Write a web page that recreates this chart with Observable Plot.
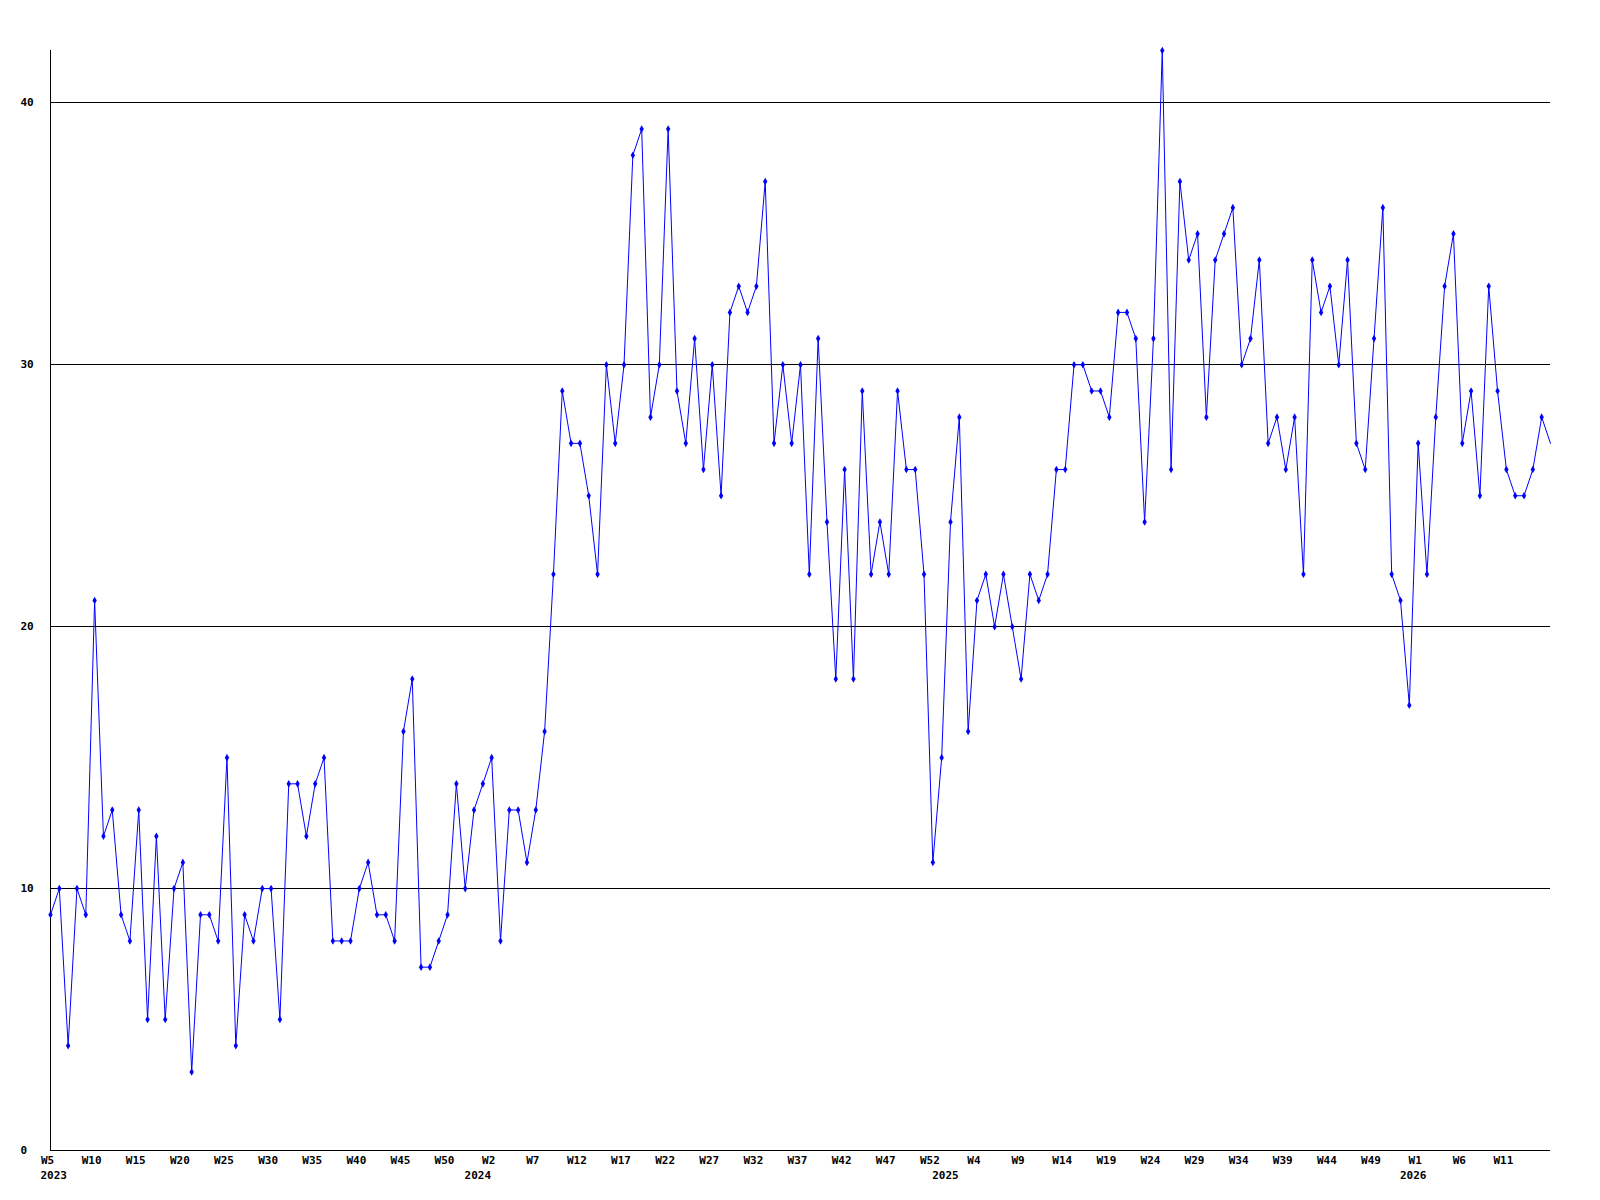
<!DOCTYPE html>
<html>
<head>
<meta charset="utf-8">
<script src="https://cdn.jsdelivr.net/npm/d3@7"></script>
<script src="https://cdn.jsdelivr.net/npm/@observablehq/plot@0.6"></script>
<style>
  html, body { margin: 0; padding: 0; background: #ffffff; }
  #chart svg { display: block; }
</style>
</head>
<body>
<div id="chart"></div>
<script>
// ---- data ----
const startYear = 2023;
const startWeek = 5;
const weeksPerYear = 53;
const values = [
  9, 10, 4, 10, 9, 21, 12, 13, 9, 8,
  13, 5, 12, 5, 10, 11, 3, 9, 9, 8,
  15, 4, 9, 8, 10, 10, 5, 14, 14, 12,
  14, 15, 8, 8, 8, 10, 11, 9, 9, 8,
  16, 18, 7, 7, 8, 9, 14, 10, 13, 14,
  15, 8, 13, 13, 11, 13, 16, 22, 29, 27,
  27, 25, 22, 30, 27, 30, 38, 39, 28, 30,
  39, 29, 27, 31, 26, 30, 25, 32, 33, 32,
  33, 37, 27, 30, 27, 30, 22, 31, 24, 18,
  26, 18, 29, 22, 24, 22, 29, 26, 26, 22,
  11, 15, 24, 28, 16, 21, 22, 20, 22, 20,
  18, 22, 21, 22, 26, 26, 30, 30, 29, 29,
  28, 32, 32, 31, 24, 31, 42, 26, 37, 34,
  35, 28, 34, 35, 36, 30, 31, 34, 27, 28,
  26, 28, 22, 34, 32, 33, 30, 34, 27, 26,
  31, 36, 22, 21, 17, 27, 22, 28, 33, 35,
  27, 29, 25, 33, 29, 26, 25, 25, 26, 28,
  27
];
const yTicks = [0, 10, 20, 30, 40];
const gridLines = [10, 20, 30, 40];
const yMax = 42;
const labelEvery = 5;

// ---- derived table ----
const data = values.map((v, i) => {
  const w = startWeek - 1 + i;
  const year = startYear + Math.floor(w / weeksPerYear);
  const week = (w % weeksPerYear) + 1;
  return { i, v, year, week };
});
const lastIndex = values.length - 1;
const weekTicks = data.filter(d => d.i % labelEvery === 0 && d.i < lastIndex);
const yearTicks = data.filter(d => d.i === 0 || d.week === 1);
const markerData = data.filter(d => d.i < lastIndex);

const font = '"DejaVu Sans Mono", "Liberation Mono", monospace';

const chart = Plot.plot({
  width: 1600,
  height: 1200,
  marginLeft: 50,
  marginRight: 50,
  marginTop: 50,
  marginBottom: 50,
  x: { domain: [0, lastIndex], axis: null },
  y: { domain: [0, yMax], axis: null },
  style: { fontFamily: font, fontSize: "11px", fontWeight: "bold", background: "#ffffff", color: "#000000" },
  marks: [
    Plot.ruleY(gridLines, { stroke: "#000000", strokeWidth: 1, shapeRendering: "crispEdges" }),
    Plot.ruleY([0], { stroke: "#000000", strokeWidth: 1, shapeRendering: "crispEdges" }),
    Plot.ruleX([0], { y1: 0, y2: yMax, stroke: "#000000", strokeWidth: 1, shapeRendering: "crispEdges" }),
    Plot.text(yTicks, { y: d => d, frameAnchor: "left", dx: -30, textAnchor: "start", text: d => String(d), fill: "#000000" }),
    Plot.text(weekTicks, { x: "i", frameAnchor: "bottom", dy: 13, dx: -3, text: d => "W" + d.week, fill: "#000000" }),
    Plot.text(yearTicks.filter(d => d.i === 0), { x: "i", frameAnchor: "bottom", dy: 28, dx: -10, textAnchor: "start", text: d => String(d.year), fill: "#000000" }),
    Plot.text(yearTicks.filter(d => d.i !== 0), { x: "i", frameAnchor: "bottom", dy: 28, dx: -5, text: d => String(d.year), fill: "#000000" }),
    Plot.line(data, { x: "i", y: "v", stroke: "#0000ff", strokeWidth: 1 }),
    Plot.dot(markerData, { x: "i", y: "v", symbol: "diamond", r: 2.3, fill: "#0000ff", stroke: "none" })
  ]
});
document.getElementById("chart").appendChild(chart);
</script>
</body>
</html>
